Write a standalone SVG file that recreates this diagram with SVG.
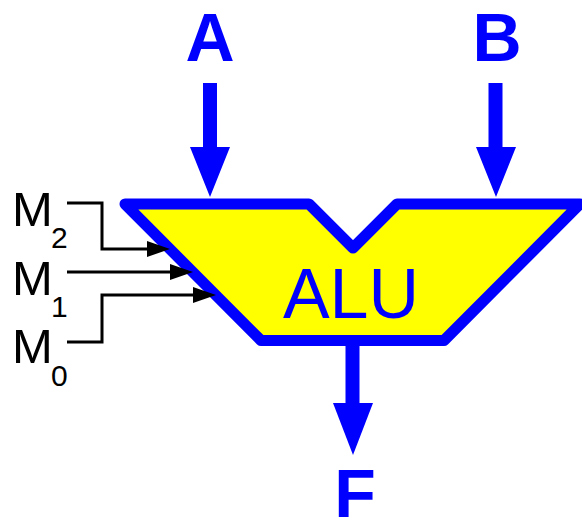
<svg xmlns="http://www.w3.org/2000/svg" width="582" height="520" viewBox="0 0 582 520">
<style>
.big{font-family:"Liberation Sans",Arial,sans-serif;font-weight:bold;font-size:68px;fill:#0000ff}
.alu{font-family:"Liberation Sans",Arial,sans-serif;font-size:70px;fill:#0000ff}
.m{font-family:"Liberation Sans",Arial,sans-serif;font-size:49px;fill:#000}
.sub{font-family:"Liberation Sans",Arial,sans-serif;font-size:30px;fill:#000}
.ctl{fill:none;stroke:#000;stroke-width:3}
.shaft{stroke:#0000ff;stroke-width:14}
.bhead{fill:#0000ff}
</style>
<defs>
<marker id="ah" markerUnits="userSpaceOnUse" markerWidth="24" markerHeight="16" refX="0" refY="8" orient="auto" overflow="visible">
<path d="M0,0 L23,8 L0,16 Z" fill="#000"/>
</marker>
</defs>
<rect width="582" height="520" fill="#fff"/>
<g id="alu">
<path d="M125,204 L309,204 L353,248 L397,204 L580,204 L444,340.5 L261,340.5 Z" fill="#ffff00" stroke="#0000ff" stroke-width="11" stroke-linejoin="round"/>
<text class="alu" x="351" y="318" text-anchor="middle">ALU</text>
</g>
<g id="A"><text class="big" x="210" y="61" text-anchor="middle">A</text></g>
<g id="B"><text class="big" x="497" y="61" text-anchor="middle">B</text></g>
<g id="F"><text class="big" x="355" y="517" text-anchor="middle">F</text></g>
<g id="M2"><text class="m" x="12" y="225.5">M</text><text class="sub" x="51" y="248">2</text></g>
<g id="M1"><text class="m" x="12" y="294.5">M</text><text class="sub" x="51" y="317">1</text></g>
<g id="M0"><text class="m" x="12" y="363">M</text><text class="sub" x="51" y="386">0</text></g>
<g id="connectors">
<line class="shaft" x1="210" y1="83" x2="210" y2="148"/>
<polygon class="bhead" points="190,147 230,147 210,197"/>
<line class="shaft" x1="495.5" y1="83" x2="495.5" y2="148"/>
<polygon class="bhead" points="476,147 516,147 496,197"/>
<line class="shaft" x1="352.5" y1="340" x2="352.5" y2="404"/>
<polygon class="bhead" points="333,403 373,403 353,455"/>
<path class="ctl" d="M67,203 H102 V249 H147" marker-end="url(#ah)"/>
<path class="ctl" d="M67,272 H170" marker-end="url(#ah)"/>
<path class="ctl" d="M67,342 H102 V295 H193" marker-end="url(#ah)"/>
</g>
</svg>
